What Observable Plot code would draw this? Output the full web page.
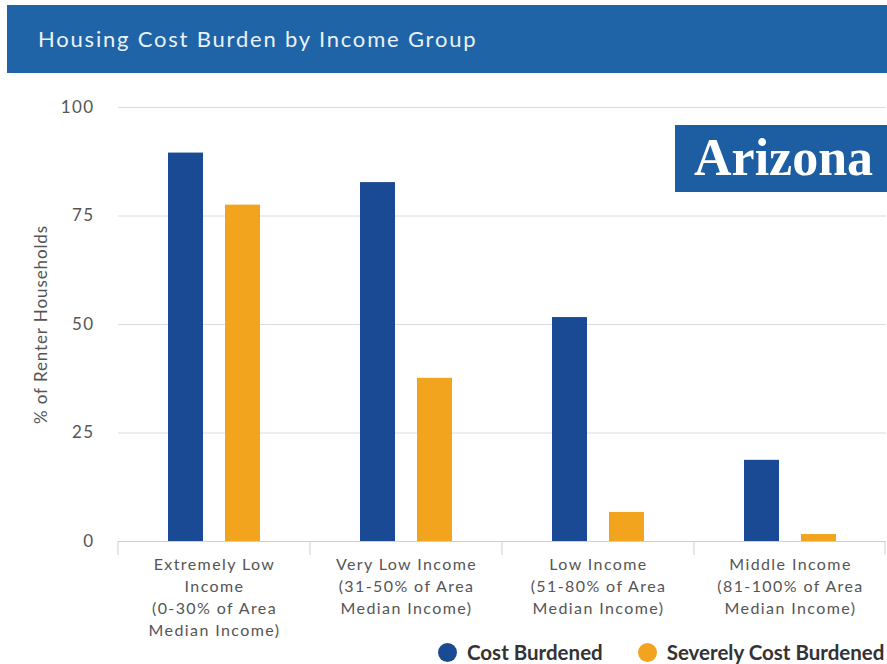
<!DOCTYPE html>
<html>
<head>
<meta charset="utf-8">
<script src="https://cdn.jsdelivr.net/npm/d3@7"></script>
<script src="https://cdn.jsdelivr.net/npm/@observablehq/plot@0.6"></script>
<style>
  html, body { margin: 0; padding: 0; background: #fff; }
  #wrap { position: relative; width: 887px; height: 664px; overflow: hidden; font-family: Lato, "Open Sans", sans-serif; }
  #header { position: absolute; left: 7px; top: 5px; width: 880px; height: 68px; background: #1f64a6; }
  #title { position: absolute; left: 31px; top: 20px; color: #eaf2fa; font-size: 22px; letter-spacing: 1.8px; font-family: Lato, sans-serif; font-weight: 400; white-space: nowrap; }
  #chart { position: absolute; left: 0; top: 75px; }
  #badge { position: absolute; left: 675px; top: 125px; width: 212px; height: 67px; background: #1d5ea3; }
  #badge span { position: absolute; left: 19px; top: 5px; color: #fff; font-family: "Liberation Serif", serif; font-weight: bold; font-size: 52px; line-height: 56px; white-space: nowrap; }
  #legend { position: absolute; top: 640px; left: 438px; display: flex; align-items: center; font-family: Lato, sans-serif; font-size: 20.5px; font-weight: 700; color: #333; white-space: nowrap; }
  .sw { width: 19px; height: 19px; border-radius: 50%; display: inline-block; margin-right: 10px; }
  .item { display: flex; align-items: center; margin-right: 35px; }
</style>
</head>
<body>
<div id="wrap">
  <div id="header"><div id="title">Housing Cost Burden by Income Group</div></div>
  <div id="chart"></div>
  <div id="badge"><span>Arizona</span></div>
  <div id="legend"></div>
</div>
<script>
const categories = [
  "Extremely Low\nIncome\n(0-30% of Area\nMedian Income)",
  "Very Low Income\n(31-50% of Area\nMedian Income)",
  "Low Income\n(51-80% of Area\nMedian Income)",
  "Middle Income\n(81-100% of Area\nMedian Income)"
];
const series = ["Cost Burdened", "Severely Cost Burdened"];
const costBurdened = [89.5, 82.7, 51.6, 18.7];
const severelyCostBurdened = [77.5, 37.6, 6.7, 1.6];
const yTicks = [0, 25, 50, 75, 100];
const colors = ["#1a4a93", "#f3a41f"];

const data = [];
categories.forEach((c, i) => {
  data.push({cat: c, series: series[0], value: costBurdened[i]});
  data.push({cat: c, series: series[1], value: severelyCostBurdened[i]});
});

const plot = Plot.plot({
  width: 887,
  height: 570,
  marginLeft: 116,
  marginRight: 0,
  marginTop: 32,
  marginBottom: 104,
  style: {fontFamily: "Lato, sans-serif", fontSize: "16px", color: "#555", background: "transparent"},
  fx: {domain: categories, padding: 0, label: null, axis: null},
  x: {domain: series, paddingInner: 0.38, paddingOuter: 0.85, axis: null},
  y: {domain: [0, 100], label: null},
  color: {domain: series, range: colors},
  marks: [
    Plot.gridY(yTicks, {stroke: "#dcdcdc", strokeOpacity: 1}),
    Plot.axisY(yTicks, {tickSize: 0, tickPadding: 24, fontSize: 17, label: null, fill: "#555"}),
    Plot.axisY({tickSize: 0, ticks: [], label: "% of Renter Households", labelArrow: "none", labelAnchor: "center", labelOffset: 84, fontSize: 17, fill: "#555"}),
    Plot.barY(data, {fx: "cat", x: "series", y: "value", fill: "series"}),
    Plot.ruleY([0], {stroke: "#cfcfcf"}),
    Plot.axisFx({anchor: "bottom", tickSize: 0, tickPadding: 13, fontSize: 16, lineHeight: 1.375, label: null, fill: "#555"})
  ]
});
document.getElementById("chart").appendChild(plot);

// category separator ticks at band boundaries, positioned with the fx scale
const fx = plot.scale("fx");
const y = plot.scale("y");
const y0 = y.apply(0);
const bounds = categories.map(c => fx.apply(c));
bounds.push(fx.apply(categories[categories.length - 1]) + fx.bandwidth - 1);
const svg = d3.select(plot.tagName.toLowerCase() === "svg" ? plot : plot.querySelector("svg"));
svg.append("g").selectAll("line").data(bounds).join("line")
  .attr("x1", d => d).attr("x2", d => d)
  .attr("y1", y0).attr("y2", y0 + 14)
  .attr("stroke", "#cfcfcf");
svg.selectAll("[aria-label='fx-axis tick label'] text, [aria-label='y-axis tick label'] text").attr("letter-spacing", "1.4px");
svg.selectAll("[aria-label='y-axis label'] text").attr("letter-spacing", "0.9px");

// legend
const legend = d3.select("#legend");
series.forEach((s, i) => {
  const it = legend.append("div").attr("class", "item");
  it.append("span").attr("class", "sw").style("background", colors[i]);
  it.append("span").text(s);
});
</script>
</body>
</html>
